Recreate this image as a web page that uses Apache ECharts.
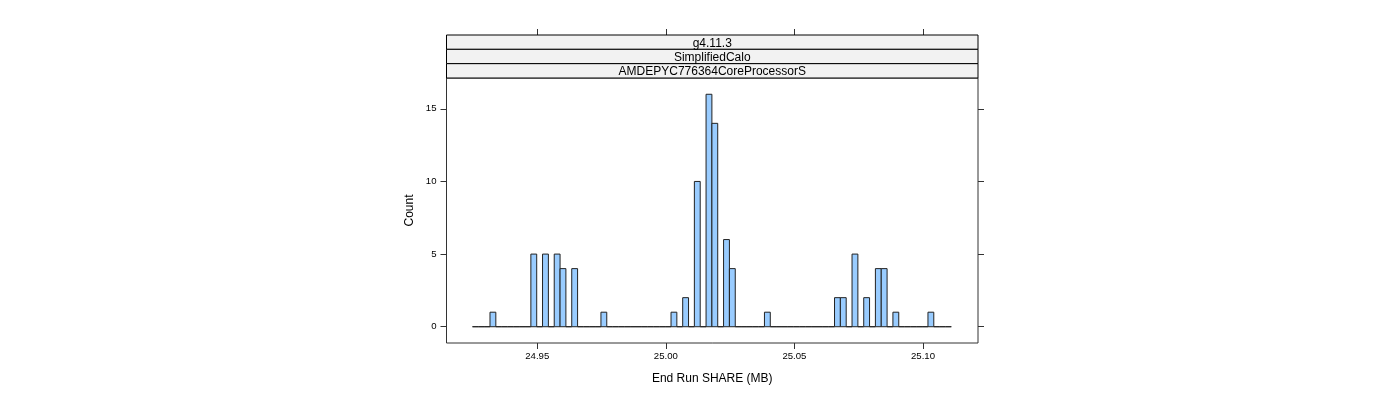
<!DOCTYPE html>
<html>
<head>
<meta charset="utf-8">
<script src="https://cdn.jsdelivr.net/npm/echarts@6/dist/echarts.min.js"></script>
<style>
html,body{margin:0;padding:0;background:#fff;}
#c{width:1400px;height:400px;}
</style>
</head>
<body>
<div id="c"></div>
<script>
// Histogram bins
const binStart = 24.9248;
const binWidth = 0.002271;
const counts = [
  0,0,0,1,0,0,0,0,0,0,
  5,0,5,0,5,4,0,4,0,0,
  0,0,1,0,0,0,0,0,0,0,
  0,0,0,0,1,0,2,0,10,0,
  16,14,0,6,4,0,0,0,0,0,
  1,0,0,0,0,0,0,0,0,0,
  0,0,2,2,0,5,0,2,0,4,
  4,0,1,0,0,0,0,0,1,0,
  0,0
];
const xTicks = [24.95, 25.00, 25.05, 25.10];
const xTickLabels = ['24.95', '25.00', '25.05', '25.10'];
const yTicks = [0, 5, 10, 15];
const stripLabels = ['g4.11.3', 'SimplifiedCalo', 'AMDEPYC776364CoreProcessorS'];
const xTitle = 'End Run SHARE (MB)';
const yTitle = 'Count';

const xMin = 24.9147, xMax = 25.1214;
const yMin = -1.12, yMax = 17.12;

const binData = counts.map((c, i) => [binStart + i * binWidth, binStart + (i + 1) * binWidth, c]);

const G = {left: 446.5, top: 78, right: 978, bottom: 343};
const font = 'Liberation Sans, Arial, Helvetica, sans-serif';
const axisColor = '#333';

const chart = echarts.init(document.getElementById('c'), null, {renderer: 'canvas'});

const stripH = (G.top - 35) / 3;
const graphics = [];
stripLabels.forEach((t, i) => {
  const y0 = 35 + i * stripH;
  graphics.push({
    type: 'rect', z: 10,
    shape: {x: G.left, y: y0, width: G.right - G.left, height: stripH},
    style: {fill: '#f2f2f2', stroke: '#000', lineWidth: 1}
  });
  graphics.push({
    type: 'text', z: 11,
    x: (G.left + G.right) / 2, y: y0 + stripH / 2 + 1.3,
    style: {text: t, fill: '#000', font: '12px ' + font, align: 'center', verticalAlign: 'middle'}
  });
});

const tickStyle = {show: true, inside: false, length: 6, lineStyle: {color: axisColor, width: 1}};

chart.setOption({
  animation: false,
  backgroundColor: '#fff',
  grid: {
    left: G.left, top: G.top, width: G.right - G.left, height: G.bottom - G.top,
    show: true, borderColor: axisColor, borderWidth: 1, backgroundColor: 'transparent'
  },
  xAxis: [{
    type: 'value', min: xMin, max: xMax, position: 'bottom',
    name: xTitle, nameLocation: 'middle', nameGap: 30,
    nameTextStyle: {fontSize: 12, color: '#000', fontFamily: font},
    axisLine: {show: false, onZero: false},
    axisTick: Object.assign({customValues: xTicks}, tickStyle),
    axisLabel: {
      customValues: xTicks, fontSize: 9.6, color: '#000', fontFamily: font, margin: 8,
      formatter: v => xTickLabels[xTicks.findIndex(t => Math.abs(t - v) < 1e-9)] || ''
    },
    splitLine: {show: false}
  }, {
    type: 'value', min: xMin, max: xMax, position: 'top', offset: G.top - 35,
    axisLine: {show: false, onZero: false},
    axisTick: Object.assign({customValues: xTicks}, tickStyle),
    axisLabel: {show: false, customValues: xTicks},
    splitLine: {show: false}
  }],
  yAxis: [{
    type: 'value', min: yMin, max: yMax, position: 'left',
    name: yTitle, nameLocation: 'middle', nameGap: 31, nameRotate: 90,
    nameTextStyle: {fontSize: 12, color: '#000', fontFamily: font},
    axisLine: {show: false, onZero: false},
    axisTick: Object.assign({customValues: yTicks}, tickStyle),
    axisLabel: {customValues: yTicks, fontSize: 9.6, color: '#000', fontFamily: font, margin: 10},
    splitLine: {show: false}
  }, {
    type: 'value', min: yMin, max: yMax, position: 'right',
    axisLine: {show: false, onZero: false},
    axisTick: Object.assign({customValues: yTicks}, tickStyle),
    axisLabel: {show: false, customValues: yTicks},
    splitLine: {show: false}
  }],
  graphic: graphics,
  series: [{
    type: 'custom',
    xAxisIndex: 0, yAxisIndex: 0,
    data: binData,
    encode: {x: [0, 1], y: 2},
    renderItem: function (params, api) {
      const p0 = api.coord([api.value(0), api.value(2)]);
      const p1 = api.coord([api.value(1), 0]);
      return {
        type: 'rect',
        shape: {x: p0[0], y: p0[1], width: p1[0] - p0[0], height: p1[1] - p0[1]},
        style: {fill: '#99CCFF', stroke: '#222', lineWidth: 1}
      };
    }
  }]
});
</script>
</body>
</html>
